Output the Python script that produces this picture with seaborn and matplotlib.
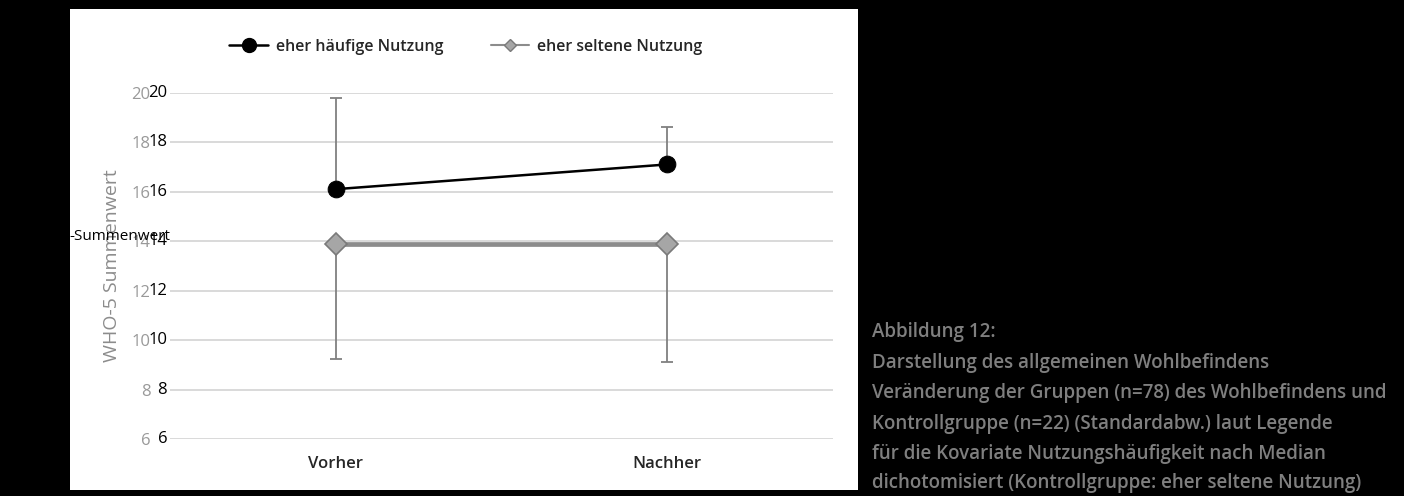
import matplotlib
matplotlib.use("Agg")
import matplotlib.pyplot as plt
import pandas as pd
import seaborn as sns
from matplotlib.lines import Line2D
from matplotlib.patches import Rectangle

# Werte
zeitpunkte = ["Vorher", "Nachher"]
gruppen = ["eher häufige Nutzung", "eher seltene Nutzung"]
haeufig_mittel = [16.1, 17.1]
haeufig_sd = [3.7, 1.5]
selten_mittel = [13.9, 13.9]
selten_sd = [4.65, 4.8]
y_ticks = [6, 8, 10, 12, 14, 16, 18, 20]

caption = [
    "Abbildung 12:",
    "Darstellung des allgemeinen Wohlbefindens",
    "Veränderung der Gruppen (n=78) des Wohlbefindens und",
    "Kontrollgruppe (n=22) (Standardabw.) laut Legende",
    "für die Kovariate Nutzungshäufigkeit nach Median",
    "dichotomisiert (Kontrollgruppe: eher seltene Nutzung)",
]

W, H = 1404, 496
sns.set_theme(style="white")
plt.rcParams["font.family"] = ["Open Sans", "DejaVu Sans"]

fig = plt.figure(figsize=(W / 100, H / 100), dpi=100, facecolor="black")
fig.patches.append(
    Rectangle((70 / W, 1 - 490 / H), (858 - 70) / W, (490 - 9) / H,
              transform=fig.transFigure, facecolor="white", edgecolor="none", zorder=-10)
)

ax = fig.add_axes([170 / W, 1 - 439 / H, (833 - 170) / W, (439 - 92.7) / H])
ax.set_facecolor("none")

df = pd.DataFrame({
    "Zeitpunkt": zeitpunkte * 2,
    "Wert": haeufig_mittel + selten_mittel,
    "Gruppe": [gruppen[0]] * 2 + [gruppen[1]] * 2,
})

# Fehlerbalken (Excel-Stil: nur plus bzw. nur minus)
ax.errorbar(zeitpunkte, haeufig_mittel, yerr=[[0, 0], haeufig_sd], fmt="none",
            ecolor="#808080", elinewidth=1.3, capsize=4, capthick=1.3, zorder=2)
ax.errorbar(zeitpunkte, selten_mittel, yerr=[selten_sd, [0, 0]], fmt="none",
            ecolor="#808080", elinewidth=1.3, capsize=4, capthick=1.3, zorder=2)

sns.lineplot(data=df[df["Gruppe"] == gruppen[0]], x="Zeitpunkt", y="Wert", sort=False,
             color="black", lw=1.8, marker="o", markersize=12, markeredgecolor="black",
             ax=ax, zorder=4)
sns.lineplot(data=df[df["Gruppe"] == gruppen[1]], x="Zeitpunkt", y="Wert", sort=False,
             color="#8c8c8c", lw=3.4, marker="D", markersize=11, markerfacecolor="#a6a6a6",
             markeredgecolor="#7a7a7a", markeredgewidth=1.2, ax=ax, zorder=3)

ax.set_xlim(-0.5, 1.5)
ax.set_ylim(6, 20)
ax.set_yticks(y_ticks)
ax.set_yticklabels([str(v) for v in y_ticks], color="#999999", fontsize=12)
ax.tick_params(axis="y", length=0, pad=14)
ax.tick_params(axis="x", length=0, pad=12, labelsize=12, labelcolor="#262626")
for lbl in ax.get_xticklabels():
    lbl.set_fontweight("semibold")
for v in y_ticks:
    ax.annotate(str(v), xy=(0, v), xycoords=("axes fraction", "data"), xytext=(-2, 0),
                textcoords="offset points", ha="right", va="center", fontsize=12,
                color="black", annotation_clip=False)

ax.grid(axis="y", color="#d9d9d9", lw=1.4)
ax.grid(axis="x", visible=False)
for s in ax.spines.values():
    s.set_visible(False)
ax.set_xlabel("")
ax.set_ylabel("WHO-5 Summenwert", color="#8c8c8c", fontsize=14)
ax.yaxis.set_label_coords((121 - 170) / 663, 0.5)

fig.text(170 / W, 1 - 236 / H, "-Summenwert", ha="right", va="center", fontsize=11, color="black")

handles = [
    Line2D([], [], color="black", lw=1.8, marker="o", markersize=10),
    Line2D([], [], color="#8c8c8c", lw=1.5, marker="D", markersize=6,
           markerfacecolor="#a6a6a6", markeredgecolor="#7a7a7a"),
]
leg = fig.legend(handles, gruppen, loc="center", bbox_to_anchor=(466 / W, 1 - 47 / H), ncol=2,
                 frameon=False, fontsize=11.5, handlelength=2.4, handletextpad=0.5,
                 columnspacing=3.0, labelcolor="#262626")
for t in leg.get_texts():
    t.set_fontweight("semibold")

line_y = [332, 363, 393, 424, 454, 483]
for txt, yc in zip(caption, line_y):
    fig.text(872 / W, 1 - yc / H, txt, ha="left", va="center", fontsize=13.5,
             fontweight="semibold", color="#7f7f7f")

fig.savefig("out.png", dpi=100, facecolor="black")
